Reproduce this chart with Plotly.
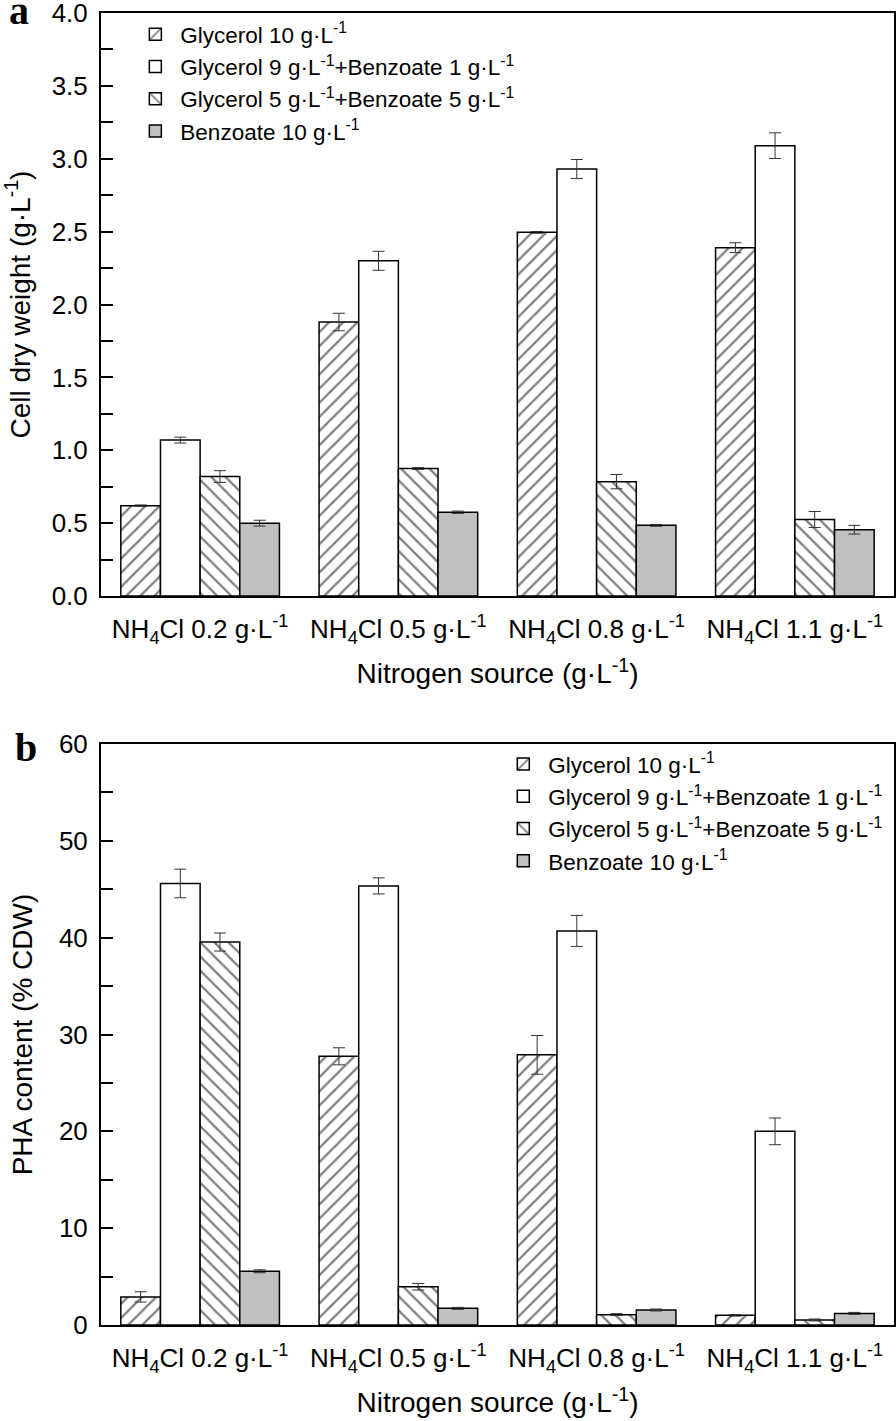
import plotly.graph_objects as go

categories = ["NH<sub>4</sub>Cl 0.2 g·L<sup>-1</sup>", "NH<sub>4</sub>Cl 0.5 g·L<sup>-1</sup>",
              "NH<sub>4</sub>Cl 0.8 g·L<sup>-1</sup>", "NH<sub>4</sub>Cl 1.1 g·L<sup>-1</sup>"]
series_names = ["Glycerol 10 g·L<sup>-1</sup>",
                "Glycerol 9 g·L<sup>-1</sup>+Benzoate 1 g·L<sup>-1</sup>",
                "Glycerol 5 g·L<sup>-1</sup>+Benzoate 5 g·L<sup>-1</sup>",
                "Benzoate 10 g·L<sup>-1</sup>"]

# Panel a: cell dry weight (g/L)
cdw_glycerol10 = [0.62, 1.88, 2.495, 2.39]
cdw_gly9_benz1 = [1.07, 2.30, 2.93, 3.09]
cdw_gly5_benz5 = [0.82, 0.875, 0.785, 0.525]
cdw_benzoate10 = [0.50, 0.575, 0.485, 0.455]
cdw_err_glycerol10 = [0.005, 0.06, 0.006, 0.034]
cdw_err_gly9_benz1 = [0.02, 0.065, 0.065, 0.088]
cdw_err_gly5_benz5 = [0.04, 0.006, 0.049, 0.055]
cdw_err_benzoate10 = [0.02, 0.008, 0.006, 0.03]

# Panel b: PHA content (% CDW)
pha_glycerol10 = [2.9, 27.75, 27.9, 1.0]
pha_gly9_benz1 = [45.6, 45.35, 40.7, 20.0]
pha_gly5_benz5 = [39.55, 3.95, 1.07, 0.52]
pha_benzoate10 = [5.55, 1.72, 1.55, 1.2]
pha_err_glycerol10 = [0.53, 0.88, 2.0, 0.08]
pha_err_gly9_benz1 = [1.48, 0.83, 1.6, 1.38]
pha_err_gly5_benz5 = [0.93, 0.34, 0.1, 0.1]
pha_err_benzoate10 = [0.15, 0.1, 0.1, 0.1]

FONT = "Liberation Sans, Arial, sans-serif"
SERIF = "Liberation Serif, Times New Roman, serif"
styles = [
    dict(color="white", pattern=dict(shape="/", fgcolor="black", bgcolor="white", size=10, solidity=0.22)),
    dict(color="white"),
    dict(color="white", pattern=dict(shape="\\", fgcolor="black", bgcolor="white", size=10, solidity=0.22)),
    dict(color="#c0c0c0"),
]

fig = go.Figure()
panel_a = [(cdw_glycerol10, cdw_err_glycerol10), (cdw_gly9_benz1, cdw_err_gly9_benz1),
           (cdw_gly5_benz5, cdw_err_gly5_benz5), (cdw_benzoate10, cdw_err_benzoate10)]
panel_b = [(pha_glycerol10, pha_err_glycerol10), (pha_gly9_benz1, pha_err_gly9_benz1),
           (pha_gly5_benz5, pha_err_gly5_benz5), (pha_benzoate10, pha_err_benzoate10)]

for i, (vals, errs) in enumerate(panel_a):
    fig.add_trace(go.Bar(
        x=categories, y=vals, name=series_names[i], xaxis="x", yaxis="y", legend="legend",
        marker=dict(line=dict(color="black", width=1.5), **styles[i]),
        error_y=dict(type="data", array=errs, color="#333333", thickness=1, width=6),
    ))
for i, (vals, errs) in enumerate(panel_b):
    fig.add_trace(go.Bar(
        x=categories, y=vals, name=series_names[i], xaxis="x2", yaxis="y2", legend="legend2",
        marker=dict(line=dict(color="black", width=1.5), **styles[i]),
        error_y=dict(type="data", array=errs, color="#333333", thickness=1, width=6),
    ))

axis_common = dict(showline=True, linecolor="black", linewidth=2, mirror=True, automargin=False,
                   ticklabeloverflow="allow",
                   showgrid=False, zeroline=False, tickfont=dict(family=FONT, size=26, color="black"))
xcommon = dict(axis_common, type="category", range=[-0.5, 3.5], ticks="", ticklabelstandoff=9,
               title=dict(text="Nitrogen source (g·L<sup>-1</sup>)", font=dict(family=FONT, size=28, color="black"), standoff=17))
ycommon = dict(axis_common, ticks="inside", ticklen=12, tickwidth=2, tickcolor="black", ticklabelstandoff=6)

fig.update_layout(
    width=896, height=1421,
    margin=dict(l=101, r=2, t=13, b=96, autoexpand=False),
    paper_bgcolor="white", plot_bgcolor="white",
    barmode="group", bargap=0.2, bargroupgap=0,
    font=dict(family=FONT, color="black"),
    xaxis=dict(xcommon, domain=[0, 1], anchor="y"),
    xaxis2=dict(xcommon, domain=[0, 1], anchor="y2"),
    yaxis=dict(ycommon, domain=[0.5556, 1], anchor="x", range=[0, 4], dtick=0.5, tickformat=".1f",
               minor=dict(dtick=0.25, ticks="inside", ticklen=12, tickwidth=2, tickcolor="black"),
               title=dict(text="Cell dry weight (g·L<sup>-1</sup>)", font=dict(family=FONT, size=28, color="black"), standoff=28)),
    yaxis2=dict(ycommon, domain=[0, 0.4428], anchor="x2", range=[0, 60], dtick=10,
                minor=dict(dtick=5, ticks="inside", ticklen=12, tickwidth=2, tickcolor="black"),
                title=dict(text="PHA content (% CDW)", font=dict(family=FONT, size=28, color="black"), standoff=18)),
    legend=dict(x=0.037, y=1.0, xanchor="left", yanchor="top", bgcolor="rgba(0,0,0,0)",
                font=dict(family=FONT, size=22.5, color="black"), tracegroupgap=0, itemwidth=40),
    legend2=dict(x=0.501, y=0.4436, xanchor="left", yanchor="top", bgcolor="rgba(0,0,0,0)",
                 font=dict(family=FONT, size=22.5, color="black"), tracegroupgap=0, itemwidth=40),
    annotations=[
        dict(text="<b>a</b>", xref="paper", yref="paper", x=-0.1034, y=1.0022, xanchor="center", yanchor="middle",
             showarrow=False, font=dict(family=SERIF, size=40, color="black")),
        dict(text="<b>b</b>", xref="paper", yref="paper", x=-0.0946, y=0.4405, xanchor="center", yanchor="middle",
             showarrow=False, font=dict(family=SERIF, size=40, color="black")),
    ],
)

fig.write_html("out.html", config={"displayModeBar": False},
               post_script="document.body.style.margin='0';document.body.style.padding='0';")
